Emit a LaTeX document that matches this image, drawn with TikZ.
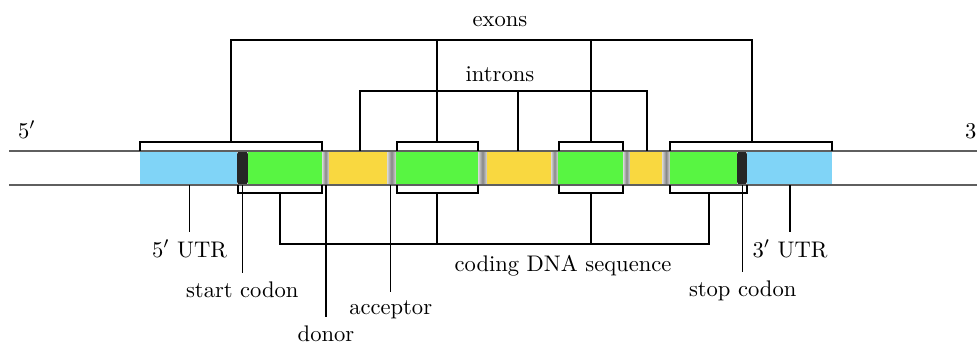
\documentclass[tikz,border=0pt]{standalone}

\definecolor{utrblue}{RGB}{128,212,247}
\definecolor{exongreen}{RGB}{88,245,66}
\definecolor{intronyellow}{RGB}{249,216,64}
\definecolor{splicegray}{RGB}{135,135,135}
\definecolor{codonblack}{RGB}{38,38,38}
\definecolor{strandgray}{RGB}{95,95,95}

\begin{document}
\begin{tikzpicture}[x = 0.443pt, y = -0.443pt, line width = 0.65pt,
  strand/.style = {draw = strandgray, line width = 0.75pt},
  splice/.style = {left color = gray!30, right color = gray!30, middle color = splicegray},
  codon/.style = {fill = codonblack, rounded corners = 1.5pt},
  lbl/.style = {anchor = base}]
\useasboundingbox (0, 0) rectangle (977, 342);

\fill[utrblue] (140, 151) rectangle (237, 185);
\fill[codon] (237, 151) rectangle (248, 185);
\fill[exongreen] (248, 151) rectangle (322, 185);
\shade[splice] (322, 151) rectangle (329, 185);
\fill[intronyellow] (329, 151) rectangle (387, 185);
\shade[splice] (387, 151) rectangle (396, 185);
\fill[exongreen] (396, 151) rectangle (478, 185);
\shade[splice] (478, 151) rectangle (487, 185);
\fill[intronyellow] (487, 151) rectangle (551, 185);
\shade[splice] (551, 151) rectangle (558, 185);
\fill[exongreen] (558, 151) rectangle (623, 185);
\shade[splice] (623, 151) rectangle (630, 185);
\fill[intronyellow] (630, 151) rectangle (662, 185);
\shade[splice] (662, 151) rectangle (670, 185);
\fill[exongreen] (670, 151) rectangle (737, 185);
\fill[codon] (737, 151) rectangle (747, 185);
\fill[utrblue] (747, 151) rectangle (832, 185);

\draw[strand] (9, 151) -- (977, 151);
\draw[strand] (9, 185) -- (977, 185);

\node[lbl] (end5) at (27, 138) {$5'$};
\node[anchor = base west, inner sep = 0] (end3) at (964.5, 138) {$3'$};

\draw (140, 151) -- (140, 142) -- (322, 142) -- (322, 151);
\draw (397, 151) -- (397, 142) -- (478, 142) -- (478, 151);
\draw (559, 151) -- (559, 142) -- (623, 142) -- (623, 151);
\draw (670, 151) -- (670, 142) -- (832, 142) -- (832, 151);
\draw (231, 142) -- (231, 40) -- (752, 40) -- (752, 142);
\draw (437, 40) -- (437, 142);
\draw (591, 40) -- (591, 142);
\node[lbl] (exons) at (500, 26) {exons};

\draw (360, 151) -- (360, 91) -- (647, 91) -- (647, 151);
\draw (518, 91) -- (518, 151);
\node[lbl] (introns) at (500, 81) {introns};

\draw (238, 185) -- (238, 193) -- (322, 193) -- (322, 185);
\draw (397, 185) -- (397, 193) -- (478, 193) -- (478, 185);
\draw (559, 185) -- (559, 193) -- (623, 193) -- (623, 185);
\draw (670, 185) -- (670, 193) -- (747, 193) -- (747, 185);
\draw (280, 193) -- (280, 244) -- (709, 244) -- (709, 193);
\draw (437, 193) -- (437, 244);
\draw (591, 193) -- (591, 244);
\node[lbl] (cds) at (563, 271) {coding DNA sequence};

\coordinate (utr5) at (189.5, 185);
\coordinate (start) at (242.3, 185);
\coordinate (donor) at (326, 185);
\coordinate (acceptor) at (390.7, 185);
\coordinate (stop) at (742.7, 185);
\coordinate (utr3) at (790, 185);

\node[lbl] (utr5lbl) at (189.5, 257) {$5'$ UTR};
\node[lbl] (startlbl) at (242.3, 297) {start codon};
\node[lbl] (donorlbl) at (326, 341) {donor};
\node[lbl] (acceptorlbl) at (390.7, 314) {acceptor};
\node[lbl] (stoplbl) at (742.7, 296) {stop codon};
\node[lbl] (utr3lbl) at (790, 257) {$3'$ UTR};

\draw (utr5) -- (utr5lbl.north);
\draw (start) -- (startlbl.north);
\draw (donor) -- (donorlbl.north);
\draw (acceptor) -- (acceptorlbl.north);
\draw (stop) -- (stoplbl.north);
\draw (utr3) -- (utr3lbl.north);
\end{tikzpicture}
\end{document}
